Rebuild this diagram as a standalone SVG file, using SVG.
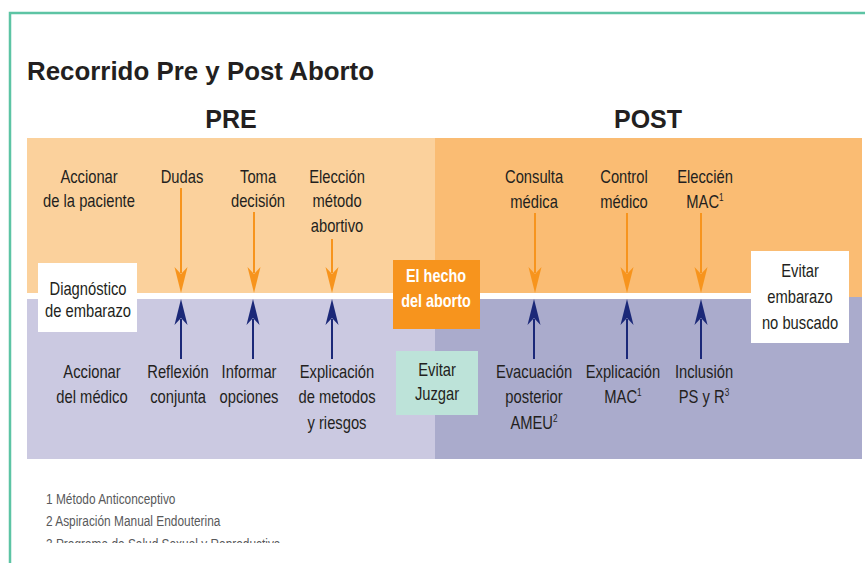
<svg xmlns="http://www.w3.org/2000/svg" width="865" height="563" viewBox="0 0 865 563">
<defs>
<style>
.lbl{font-family:"Liberation Sans",sans-serif;font-size:18px;fill:#231f20;text-anchor:middle;transform-box:fill-box;transform-origin:center;transform:scaleX(0.82)}
.wb{font-family:"Liberation Sans",sans-serif;font-size:18px;font-weight:bold;fill:#ffffff;text-anchor:middle;transform-box:fill-box;transform-origin:center;transform:scaleX(0.8)}
.hd{font-family:"Liberation Sans",sans-serif;font-weight:bold;fill:#231f20}
.fn{font-family:"Liberation Sans",sans-serif;font-size:14.5px;fill:#58595b;transform-box:fill-box;transform-origin:left center;transform:scaleX(0.82)}
.sup{font-size:10px}
.oa{stroke:#f7941d;stroke-width:2;fill:none}
.na{stroke:#1b2878;stroke-width:2;fill:none}
</style>
<marker id="ho" viewBox="-27 -7 28 14" refX="-20" refY="0" markerWidth="28" markerHeight="14" markerUnits="userSpaceOnUse" orient="auto">
<path d="M0,0 L-26,-6.5 L-19,0 L-26,6.5 Z" fill="#f7941d"/>
</marker>
<marker id="hn" viewBox="-27 -7 28 14" refX="-20" refY="0" markerWidth="28" markerHeight="14" markerUnits="userSpaceOnUse" orient="auto">
<path d="M0,0 L-26,-6.5 L-19,0 L-26,6.5 Z" fill="#1b2878"/>
</marker>
</defs>
<rect x="0" y="0" width="865" height="563" fill="#ffffff"/>
<rect x="10" y="13" width="900" height="600" fill="#ffffff" stroke="#5dc4a4" stroke-width="2.5"/>
<text class="hd" x="27" y="80" font-size="25.5" textLength="347" lengthAdjust="spacingAndGlyphs">Recorrido Pre y Post Aborto</text>
<text class="hd" x="231" y="128" font-size="25" text-anchor="middle">PRE</text>
<text class="hd" x="648" y="128" font-size="25" text-anchor="middle">POST</text>
<g id="bands">
<rect x="27" y="138" width="408" height="155" fill="#fbd19c"/>
<rect x="435" y="138" width="427" height="159" fill="#fabc73"/>
<rect x="27" y="299" width="408" height="160" fill="#cbc9e1"/>
<rect x="435" y="297" width="427" height="162" fill="#aaabcc"/>
<rect x="27" y="293" width="725" height="6" fill="#ffffff"/>
</g>
<g id="connectors">
<line class="oa" x1="181" y1="188" x2="181" y2="273" marker-end="url(#ho)"/>
<line class="oa" x1="254" y1="212" x2="254" y2="273" marker-end="url(#ho)"/>
<line class="oa" x1="332" y1="239" x2="332" y2="273" marker-end="url(#ho)"/>
<line class="oa" x1="535" y1="213" x2="535" y2="273" marker-end="url(#ho)"/>
<line class="oa" x1="627" y1="213" x2="627" y2="273" marker-end="url(#ho)"/>
<line class="oa" x1="701" y1="213" x2="701" y2="273" marker-end="url(#ho)"/>
<line class="na" x1="181" y1="359" x2="181" y2="319" marker-end="url(#hn)"/>
<line class="na" x1="253" y1="359" x2="253" y2="319" marker-end="url(#hn)"/>
<line class="na" x1="332" y1="359" x2="332" y2="319" marker-end="url(#hn)"/>
<line class="na" x1="534" y1="359" x2="534" y2="319" marker-end="url(#hn)"/>
<line class="na" x1="627" y1="359" x2="627" y2="319" marker-end="url(#hn)"/>
<line class="na" x1="701" y1="359" x2="701" y2="319" marker-end="url(#hn)"/>
</g>
<g id="accionar-paciente"><text class="lbl" x="89" y="183">Accionar</text><text class="lbl" x="89" y="207">de la paciente</text></g>
<g id="dudas"><text class="lbl" x="182" y="183">Dudas</text></g>
<g id="toma-decision"><text class="lbl" x="258" y="183">Toma</text><text class="lbl" x="258" y="207">decisión</text></g>
<g id="eleccion-metodo"><text class="lbl" x="337" y="183">Elección</text><text class="lbl" x="337" y="207">método</text><text class="lbl" x="337" y="232">abortivo</text></g>
<g id="consulta-medica"><text class="lbl" x="534" y="183">Consulta</text><text class="lbl" x="534" y="208">médica</text></g>
<g id="control-medico"><text class="lbl" x="624" y="183">Control</text><text class="lbl" x="624" y="208">médico</text></g>
<g id="eleccion-mac"><text class="lbl" x="705" y="183">Eleccién</text><text class="lbl" x="705" y="208">MAC<tspan class="sup" dy="-7">1</tspan></text></g>
<g id="diagnostico"><rect x="38" y="263" width="99" height="69" fill="#ffffff"/><text class="lbl" x="88" y="295">Diagnóstico</text><text class="lbl" x="88" y="317">de embarazo</text></g>
<g id="hecho-aborto"><rect x="393" y="260" width="87" height="69" fill="#f7941d"/><text class="wb" x="436" y="282">El hecho</text><text class="wb" x="436" y="307">del aborto</text></g>
<g id="evitar-embarazo"><rect x="751" y="251" width="98" height="92" fill="#ffffff"/><text class="lbl" x="800" y="277">Evitar</text><text class="lbl" x="800" y="303">embarazo</text><text class="lbl" x="800" y="329">no buscado</text></g>
<g id="evitar-juzgar"><rect x="396" y="351" width="82" height="64" fill="#bde3d9"/><text class="lbl" x="437" y="376">Evitar</text><text class="lbl" x="437" y="400">Juzgar</text></g>
<g id="accionar-medico"><text class="lbl" x="92" y="378">Accionar</text><text class="lbl" x="92" y="403">del médico</text></g>
<g id="reflexion"><text class="lbl" x="178" y="378">Reflexión</text><text class="lbl" x="178" y="403">conjunta</text></g>
<g id="informar"><text class="lbl" x="249" y="378">Informar</text><text class="lbl" x="249" y="403">opciones</text></g>
<g id="explicacion-metodos"><text class="lbl" x="337" y="378">Explicación</text><text class="lbl" x="337" y="403">de metodos</text><text class="lbl" x="337" y="429">y riesgos</text></g>
<g id="evacuacion"><text class="lbl" x="534" y="378">Evacuación</text><text class="lbl" x="534" y="403">posterior</text><text class="lbl" x="534" y="429">AMEU<tspan class="sup" dy="-7">2</tspan></text></g>
<g id="explicacion-mac"><text class="lbl" x="623" y="378">Explicación</text><text class="lbl" x="623" y="403">MAC<tspan class="sup" dy="-7">1</tspan></text></g>
<g id="inclusion"><text class="lbl" x="704" y="378">Inclusión</text><text class="lbl" x="704" y="403">PS y R<tspan class="sup" dy="-7">3</tspan></text></g>
<g id="footnotes">
<text class="fn" x="46" y="504">1 Método Anticonceptivo</text>
<text class="fn" x="46" y="526">2 Aspiración Manual Endouterina</text>
<text class="fn" x="46" y="549">3 Programa de Salud Sexual y Reproductiva</text>
<rect x="12" y="543" width="853" height="20" fill="#ffffff"/>
</g>
</svg>
